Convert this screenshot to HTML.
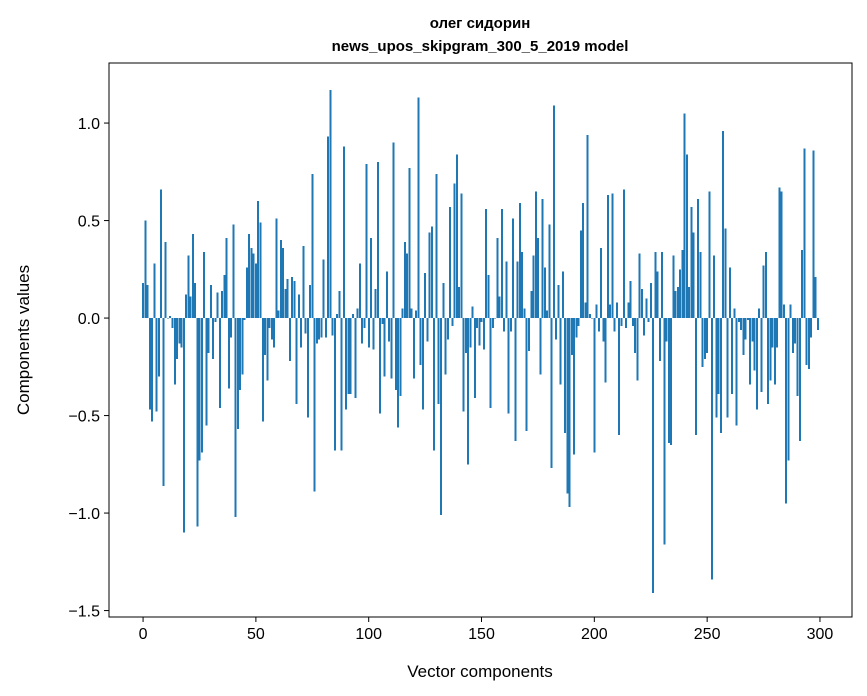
<!DOCTYPE html>
<html><head><meta charset="utf-8"><style>
body{margin:0;background:#fff;}
svg{display:block;font-family:"Liberation Sans","DejaVu Sans",sans-serif;}
</style></head><body>
<svg id="chart" width="867" height="696">
<text x="480" y="28" text-anchor="middle" font-size="15" font-weight="bold">олег сидорин</text>
<text x="480" y="51" text-anchor="middle" font-size="15" font-weight="bold">news_upos_skipgram_300_5_2019 model</text>
<g id="bars" shape-rendering="crispEdges"></g>
<g id="axes"></g>
<rect x="109" y="63" width="743" height="554" fill="none" stroke="#000" stroke-width="1"/>
<text x="480" y="677" text-anchor="middle" font-size="17">Vector components</text>
<text x="29" y="340" text-anchor="middle" font-size="17" transform="rotate(-90 29 340)">Components values</text>
</svg>
<script>
const values = [
0.18,0.50,0.17,-0.47,-0.53,0.28,-0.48,-0.30,0.66,-0.86,
0.39,0.0,0.01,-0.05,-0.34,-0.21,-0.13,-0.15,-1.10,0.12,
0.32,0.11,0.43,0.18,-1.07,-0.73,-0.69,0.34,-0.55,-0.18,
0.17,-0.21,-0.02,0.13,-0.46,0.14,0.22,0.41,-0.36,-0.10,
0.48,-1.02,-0.57,-0.37,-0.29,-0.01,0.26,0.43,0.36,0.33,
0.28,0.60,0.49,-0.53,-0.19,-0.32,-0.05,-0.11,-0.15,0.51,
0.04,0.40,0.36,0.15,0.20,-0.22,0.21,0.19,-0.44,0.12,
-0.15,0.37,-0.08,-0.51,0.17,0.74,-0.89,-0.13,-0.11,-0.10,
0.30,-0.10,0.93,1.17,-0.09,-0.68,0.02,0.14,-0.68,0.88,
-0.47,-0.39,-0.39,0.02,-0.41,0.05,0.28,-0.13,-0.05,0.79,
-0.15,0.41,-0.16,0.15,0.80,-0.49,-0.03,-0.30,0.24,-0.12,
-0.31,0.90,-0.37,-0.56,-0.40,0.05,0.39,0.33,0.77,0.05,
-0.31,0.04,1.13,-0.24,-0.47,0.23,-0.12,0.44,0.47,-0.68,
0.74,-0.44,-1.01,0.18,-0.29,-0.11,0.57,-0.04,0.69,0.84,
0.16,0.64,-0.48,-0.18,-0.75,-0.15,0.06,-0.41,-0.05,-0.14,
-0.02,-0.16,0.56,0.22,-0.46,-0.05,0.0,0.41,0.11,0.56,
-0.07,0.29,-0.49,-0.07,0.51,-0.63,0.29,0.59,0.34,0.05,
-0.58,-0.17,0.14,0.32,0.65,0.41,-0.29,0.61,0.26,0.04,
0.48,-0.77,1.09,-0.11,0.17,-0.34,0.24,-0.59,-0.90,-0.97,
-0.19,-0.70,-0.10,-0.04,0.45,0.59,0.08,0.94,0.02,0.0,
-0.69,0.07,-0.07,0.36,-0.12,-0.33,0.63,0.07,0.64,-0.07,
0.08,-0.60,-0.04,0.66,-0.05,0.08,0.19,-0.04,-0.18,-0.32,
0.33,0.15,-0.09,0.10,-0.02,0.18,-1.41,0.34,0.24,-0.22,
0.34,-1.16,-0.12,-0.64,-0.65,0.32,0.14,0.16,0.25,0.35,
1.05,0.84,0.16,0.57,0.44,-0.60,0.61,0.34,-0.25,-0.21,
-0.18,0.65,-1.34,0.32,-0.51,-0.39,-0.59,0.96,0.46,-0.51,
0.26,-0.39,0.05,-0.55,-0.02,-0.06,-0.19,-0.11,-0.01,-0.34,
-0.12,-0.27,-0.47,0.05,-0.38,0.27,0.34,-0.44,-0.32,-0.15,
-0.34,-0.15,0.67,0.65,0.07,-0.95,-0.73,0.07,-0.18,-0.13,
-0.40,-0.63,0.35,0.87,-0.24,-0.26,-0.10,0.86,0.21,-0.06
];
const xTicks = [0,50,100,150,200,250,300];
const yTicks = [-1.5,-1.0,-0.5,0.0,0.5,1.0];
const yTickLabels = ["−1.5","−1.0","−0.5","0.0","0.5","1.0"];

const X0=109,X1=852,Y0=63,Y1=617;
const xMin=-15.1,xMax=314.2,yMin=-1.533,yMax=1.308;
function sx(v){return X0+(v-xMin)/(xMax-xMin)*(X1-X0);}
function sy(v){return Y1-(v-yMin)/(yMax-yMin)*(Y1-Y0);}
const NS="http://www.w3.org/2000/svg";
const bars=document.getElementById('bars');
values.forEach((v,i)=>{
  const r=document.createElementNS(NS,'rect');
  const xa=sx(i-0.4),xb=sx(i+0.4);
  const ya=sy(Math.max(v,0)),yb=sy(Math.min(v,0));
  r.setAttribute('x',xa);r.setAttribute('width',Math.max(xb-xa,2));
  r.setAttribute('y',ya);r.setAttribute('height',Math.max(yb-ya,0.5));
  r.setAttribute('fill','#1f77b4');
  
  
  bars.appendChild(r);
});
const axes=document.getElementById('axes');
xTicks.forEach(t=>{
  const x=sx(t);
  const l=document.createElementNS(NS,'line');
  l.setAttribute('x1',x);l.setAttribute('x2',x);l.setAttribute('y1',Y1);l.setAttribute('y2',Y1+5);
  l.setAttribute('stroke','#000');
  
  
  axes.appendChild(l);
  const tx=document.createElementNS(NS,'text');
  tx.setAttribute('x',x);tx.setAttribute('y',Y1+22);tx.setAttribute('text-anchor','middle');tx.setAttribute('font-size','16');
  tx.textContent=t;
  
  
  axes.appendChild(tx);
});
yTicks.forEach((t,i)=>{
  const y=sy(t);
  const l=document.createElementNS(NS,'line');
  l.setAttribute('x1',X0-5);l.setAttribute('x2',X0);l.setAttribute('y1',y);l.setAttribute('y2',y);
  l.setAttribute('stroke','#000');
  
  
  axes.appendChild(l);
  const tx=document.createElementNS(NS,'text');
  tx.setAttribute('x',X0-9);tx.setAttribute('y',y+6);tx.setAttribute('text-anchor','end');tx.setAttribute('font-size','16');
  tx.textContent=yTickLabels[i];
  
  
  axes.appendChild(tx);
});
</script>
</body></html>
